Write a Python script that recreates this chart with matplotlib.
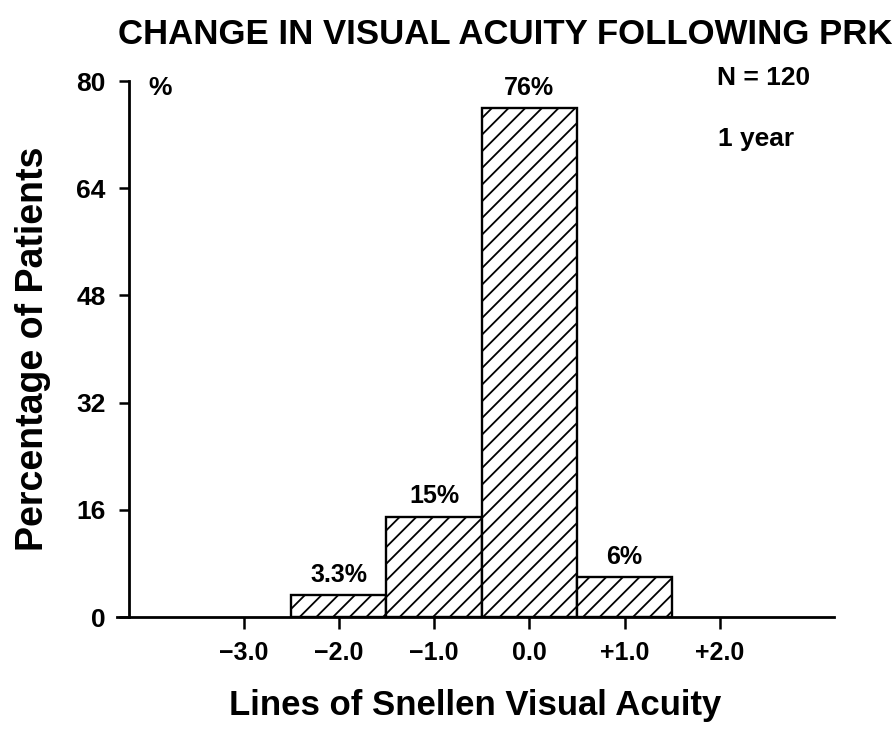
import matplotlib
matplotlib.use("Agg")
import matplotlib.pyplot as plt

plt.rcParams['font.family'] = ['Liberation Sans', 'DejaVu Sans']
plt.rcParams['font.weight'] = 'bold'
plt.rcParams['axes.labelweight'] = 'bold'
plt.rcParams['hatch.linewidth'] = 1.3

# change in lines of Snellen acuity, % of patients at 1 year
lines = [-2.0, -1.0, 0.0, 1.0]
pct = [3.3, 15, 76, 6]
pct_labels = ['3.3%', '15%', '76%', '6%']
xticks = [-3.0, -2.0, -1.0, 0.0, 1.0, 2.0]
xtick_labels = ['\u22123.0', '\u22122.0', '\u22121.0', '0.0', '+1.0', '+2.0']
yticks = [0, 16, 32, 48, 64, 80]

fig = plt.figure(figsize=(8.92, 7.34), dpi=100)
ax = fig.add_axes([0.1312, 0.1594, 0.8038, 0.7302])

ax.bar(lines, pct, width=1.0, color='white', edgecolor='black',
       linewidth=1.7, hatch='//', zorder=2)
for x, v, s in zip(lines, pct, pct_labels):
    ax.text(x, v + 1.2, s, ha='center', va='bottom', fontsize=18)

ax.set_xlim(-4.33, 3.2)
ax.set_ylim(0, 80)
ax.spines['left'].set_position(('data', -4.2))
ax.spines['left'].set_bounds(0, 80)
ax.spines['top'].set_visible(False)
ax.spines['right'].set_visible(False)
for s in ('left', 'bottom'):
    ax.spines[s].set_linewidth(2.0)

ax.set_xticks(xticks)
ax.set_xticklabels(xtick_labels)
ax.set_yticks(yticks)
ax.tick_params(axis='x', direction='out', length=8.6, width=1.8,
               labelsize=18, pad=9)
ax.tick_params(axis='y', direction='out', length=7.2, width=1.8,
               labelsize=19, pad=10)

ax.text(-3.88, 79, '%', ha='center', va='center', fontsize=19)
ax.text(2.46, 80.4, 'N = 120', ha='center', va='center', fontsize=19)
ax.text(2.38, 71.3, '1 year', ha='center', va='center', fontsize=19)

ax.set_xlabel('Lines of Snellen Visual Acuity', fontsize=25, labelpad=17)
ax.set_ylabel('Percentage of Patients', fontsize=27, labelpad=18)
fig.text(0.566, 0.953, 'CHANGE IN VISUAL ACUITY FOLLOWING PRK',
         ha='center', va='center', fontsize=25)

fig.savefig('out.png', dpi=100)
